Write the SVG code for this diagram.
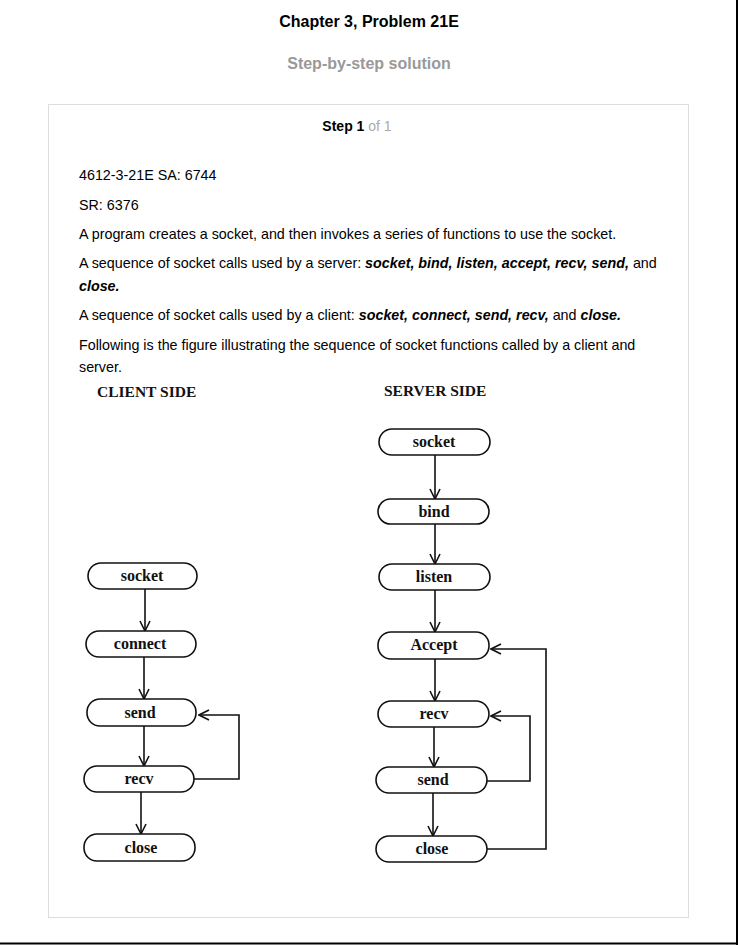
<svg xmlns="http://www.w3.org/2000/svg" width="738" height="945" viewBox="0 0 738 945">
<defs>
<style>
.sans{font-family:"Liberation Sans",Arial,sans-serif;font-size:14.3px;fill:#000}
.stp{font-family:"Liberation Sans",Arial,sans-serif;font-size:14px;fill:#000}
.ttl{font-family:"Liberation Sans",Arial,sans-serif;font-size:16px;font-weight:bold}
.bi{font-weight:bold;font-style:italic}
.hd{font-family:"Liberation Serif","Times New Roman",serif;font-size:15.5px;font-weight:bold;fill:#111}
.nd rect{fill:#fff;stroke:#111;stroke-width:1.6}
.nd text{font-family:"Liberation Serif","Times New Roman",serif;font-size:16px;font-weight:bold;fill:#111;text-anchor:middle}
.cn path{fill:none;stroke:#111;stroke-width:1.6}
</style>
<marker id="ah" viewBox="0 0 12 12" refX="11" refY="6" markerWidth="12" markerHeight="12" markerUnits="userSpaceOnUse" orient="auto">
<polyline points="1,1 11,6 1,11" fill="none" stroke="#111" stroke-width="1.6"/>
</marker>
</defs>
<rect x="0" y="0" width="738" height="945" fill="#fff"/>
<line x1="737" y1="0" x2="737" y2="945" stroke="#000" stroke-width="2"/>
<line x1="0" y1="943.5" x2="738" y2="943.5" stroke="#000" stroke-width="2"/>
<text class="ttl" x="369" y="27" text-anchor="middle" fill="#000">Chapter 3, Problem 21E</text>
<text class="ttl" x="369" y="69" text-anchor="middle" fill="#999">Step-by-step solution</text>
<rect x="48.5" y="104.5" width="640" height="813" fill="#fff" stroke="#ddd" stroke-width="1"/>
<text class="stp" x="357" y="131" text-anchor="middle"><tspan font-weight="bold">Step 1</tspan><tspan fill="#aaa"> of 1</tspan></text>
<text class="sans" x="79" y="180">4612-3-21E SA: 6744</text>
<text class="sans" x="79" y="210">SR: 6376</text>
<text class="sans" x="79" y="239">A program creates a socket, and then invokes a series of functions to use the socket.</text>
<text class="sans" x="79" y="268">A sequence of socket calls used by a server: <tspan class="bi">socket, bind, listen, accept, recv, send,</tspan> and</text>
<text class="sans" x="79" y="291"><tspan class="bi">close.</tspan></text>
<text class="sans" x="79" y="320">A sequence of socket calls used by a client: <tspan class="bi">socket, connect, send, recv,</tspan> and <tspan class="bi">close.</tspan></text>
<text class="sans" x="79" y="350">Following is the figure illustrating the sequence of socket functions called by a client and</text>
<text class="sans" x="79" y="372">server.</text>
<text class="hd" x="97" y="397">CLIENT SIDE</text>
<text class="hd" x="384" y="396">SERVER SIDE</text>
<g class="cn" id="connectors">
<path d="M145,589 V631" marker-end="url(#ah)"/>
<path d="M144,657 V699" marker-end="url(#ah)"/>
<path d="M144,726 V766" marker-end="url(#ah)"/>
<path d="M141,792 V834" marker-end="url(#ah)"/>
<path d="M194,779 H239 V715 H199" marker-end="url(#ah)"/>
<path d="M435,455 V499" marker-end="url(#ah)"/>
<path d="M435,524 V564" marker-end="url(#ah)"/>
<path d="M435,590 V632" marker-end="url(#ah)"/>
<path d="M435,659 V701" marker-end="url(#ah)"/>
<path d="M434,727 V767" marker-end="url(#ah)"/>
<path d="M433,793 V836" marker-end="url(#ah)"/>
<path d="M487,781 H530 V716 H491" marker-end="url(#ah)"/>
<path d="M487,849 H546 V649 H491" marker-end="url(#ah)"/>
</g>
<g class="nd" id="c-socket"><rect x="88" y="563" width="109" height="26" rx="13"/><text x="142" y="581">socket</text></g>
<g class="nd" id="c-connect"><rect x="86" y="631" width="110" height="26" rx="13"/><text x="140" y="649">connect</text></g>
<g class="nd" id="c-send"><rect x="87" y="699" width="109" height="27" rx="13"/><text x="140" y="718">send</text></g>
<g class="nd" id="c-recv"><rect x="84" y="766" width="110" height="26" rx="13"/><text x="139" y="784">recv</text></g>
<g class="nd" id="c-close"><rect x="84" y="834" width="111" height="27" rx="13"/><text x="141" y="853">close</text></g>
<g class="nd" id="s-socket"><rect x="379" y="429" width="111" height="26" rx="13"/><text x="434" y="447">socket</text></g>
<g class="nd" id="s-bind"><rect x="378" y="499" width="111" height="25" rx="12.5"/><text x="434" y="517">bind</text></g>
<g class="nd" id="s-listen"><rect x="379" y="564" width="111" height="26" rx="13"/><text x="434" y="582">listen</text></g>
<g class="nd" id="s-accept"><rect x="378" y="632" width="111" height="27" rx="13"/><text x="434" y="650">Accept</text></g>
<g class="nd" id="s-recv"><rect x="378" y="701" width="111" height="26" rx="13"/><text x="434" y="719">recv</text></g>
<g class="nd" id="s-send"><rect x="376" y="767" width="111" height="26" rx="13"/><text x="433" y="785">send</text></g>
<g class="nd" id="s-close"><rect x="376" y="836" width="111" height="26" rx="13"/><text x="432" y="854">close</text></g>
</svg>
